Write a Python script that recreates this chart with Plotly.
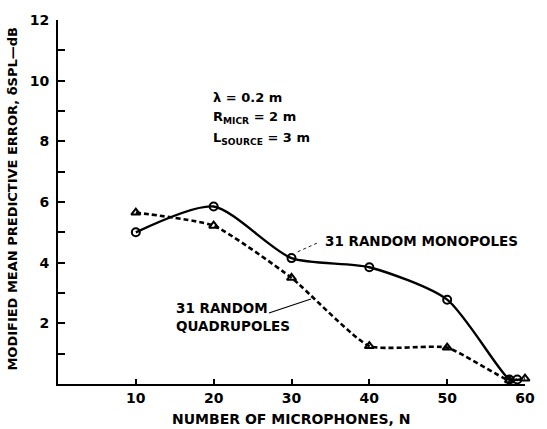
import plotly.graph_objects as go

# ---- data ----
n_mono = [10, 20, 30, 40, 50, 58, 59]
err_mono = [5.0, 5.85, 4.15, 3.85, 2.78, 0.15, 0.15]

n_quad = [10, 20, 30, 40, 50, 58, 60]
err_quad = [5.65, 5.22, 3.5, 1.25, 1.2, 0.12, 0.18]

x_ticks = [10, 20, 30, 40, 50, 60]
y_ticks = [2, 4, 6, 8, 10, 12]

FONT = "DejaVu Sans, Liberation Sans, Arial, sans-serif"

fig = go.Figure()

fig.add_trace(go.Scatter(
    x=n_mono, y=err_mono, mode="lines+markers",
    line=dict(color="black", width=2.4, shape="spline", smoothing=0.7),
    marker=dict(symbol="circle-open", size=8, color="black", line=dict(width=2)),
    showlegend=False, cliponaxis=False,
))
fig.add_trace(go.Scatter(
    x=n_quad, y=err_quad, mode="lines+markers",
    line=dict(color="black", width=2.6, dash="5px,3px", shape="spline", smoothing=0.5),
    marker=dict(symbol="triangle-up-open", size=8, color="black", line=dict(width=2)),
    showlegend=False, cliponaxis=False,
))

fig.update_layout(
    width=547, height=429,
    margin=dict(l=58, r=18, t=15, b=45),
    paper_bgcolor="white", plot_bgcolor="white",
    font=dict(family=FONT, color="black"),
    xaxis=dict(
        range=[0, 60], tickvals=x_ticks, ticktext=[str(v) for v in x_ticks],
        ticks="inside", ticklen=5, tickwidth=2, tickcolor="black",
        showline=True, linecolor="black", linewidth=2,
        showgrid=False, zeroline=False,
        tickfont=dict(size=14, family=FONT, weight="bold"),
    ),
    yaxis=dict(
        range=[0, 12], tickvals=y_ticks, ticktext=[str(v) for v in y_ticks],
        ticks="inside", ticklen=7, tickwidth=2, tickcolor="black",
        minor=dict(dtick=1, tick0=0, ticks="inside", ticklen=7, tickwidth=2, tickcolor="black"),
        showline=True, linecolor="black", linewidth=2,
        showgrid=False, zeroline=False, ticklabelstandoff=4,
        tickfont=dict(size=14, family=FONT, weight="bold"),
    ),
)

ann = []
# corner zero label
ann.append(dict(x=-1.7, y=-0.38, xref="x", yref="y", text="0", showarrow=False,
                font=dict(size=14, weight="bold"), xanchor="center", yanchor="middle"))
# y axis title
ann.append(dict(x=-0.098, y=0.51, xref="paper", yref="paper", textangle=-90,
                text="MODIFIED MEAN PREDICTIVE ERROR, δSPL—dB", showarrow=False,
                font=dict(size=13, weight="bold"), xanchor="center", yanchor="middle"))
# x axis title
ann.append(dict(x=0.5, y=-0.07, xref="paper", yref="paper",
                text="NUMBER OF MICROPHONES, N", showarrow=False,
                font=dict(size=14, weight="bold"), xanchor="center", yanchor="top"))
# parameter block
ann.append(dict(x=19.6, y=9.45, xref="x", yref="y", text="λ = 0.2 m", showarrow=False,
                font=dict(size=13, weight="bold"), xanchor="left", yanchor="middle"))
ann.append(dict(x=19.6, y=8.78, xref="x", yref="y", text="R<sub>MICR</sub> = 2 m", showarrow=False,
                font=dict(size=13, weight="bold"), xanchor="left", yanchor="middle"))
ann.append(dict(x=19.6, y=8.1, xref="x", yref="y", text="L<sub>SOURCE</sub> = 3 m", showarrow=False,
                font=dict(size=13, weight="bold"), xanchor="left", yanchor="middle"))
# curve labels
ann.append(dict(x=34.0, y=4.7, xref="x", yref="y", text="31 RANDOM MONOPOLES", showarrow=False,
                font=dict(size=13.5, weight="bold"), xanchor="left", yanchor="middle"))
ann.append(dict(x=14.9, y=2.2, xref="x", yref="y", text="31 RANDOM<br>QUADRUPOLES", showarrow=False,
                font=dict(size=13.5, weight="bold"), xanchor="left", yanchor="middle", align="left"))
fig.update_layout(annotations=ann)

# leader lines from the labels to the curves
fig.add_shape(type="line", xref="x", yref="y", x0=30.8, y0=4.36, x1=33.6, y1=4.68,
              line=dict(color="black", width=0.9, dash="dot"))
fig.add_shape(type="line", xref="x", yref="y", x0=27.1, y0=2.34, x1=32.5, y1=2.8,
              line=dict(color="black", width=1.1))

fig.write_html("out.html")
